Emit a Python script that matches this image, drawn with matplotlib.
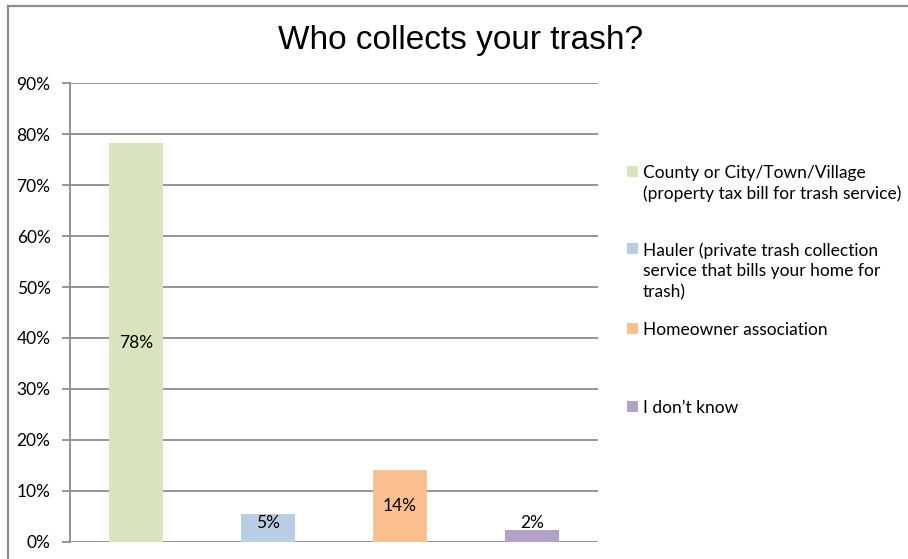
import matplotlib
matplotlib.use("Agg")
import matplotlib.pyplot as plt
from matplotlib.lines import Line2D
from matplotlib.patches import Rectangle

categories = [
    "County or City/Town/Village\n(property tax bill for trash service)",
    "Hauler (private trash collection\nservice that bills your home for\ntrash)",
    "Homeowner association",
    "I don\u2019t know",
]
values = [78.2, 5.4, 14.1, 2.3]
colors = ["#d7e4bd", "#b9cde5", "#fac090", "#b3a2c7"]
yticks = [0, 10, 20, 30, 40, 50, 60, 70, 80, 90]
title = "Who collects your trash?"

W, H = 908, 559
fig = plt.figure(figsize=(W / 100, H / 100), dpi=100)
fig.patch.set_facecolor("white")

# outer chart frame (top and left edges visible)
fig.add_artist(Line2D([8 / W, 1.0], [1 - 6 / H, 1 - 6 / H], color="#8c8c8c", lw=1.6))
fig.add_artist(Line2D([8 / W, 8 / W], [0, 1 - 6 / H], color="#8c8c8c", lw=1.6))

ax = fig.add_axes([70 / W, 17.3 / H, (598 - 70) / W, (541.7 - 83.3) / H])
x = list(range(len(values)))
ax.bar(x, values, width=0.41, color=colors, zorder=3)

ax.set_xlim(-0.5, len(values) - 0.5)
ax.set_ylim(0, 90)
ax.set_yticks(yticks)
ax.set_yticklabels([f"{t}%" for t in yticks], fontsize=12.5, family="Lato", color="#000000")
ax.set_xticks([])
ax.yaxis.grid(True, color="#8c8c8c", lw=1.3, zorder=0)
ax.tick_params(axis="y", length=6, width=1.3, color="#8c8c8c", pad=8)
for side in ["top", "right", "bottom"]:
    ax.spines[side].set_visible(False)
ax.spines["left"].set_color("#8c8c8c")
ax.spines["left"].set_linewidth(1.3)

for xi, v in zip(x, values):
    ax.text(xi, max(v / 2, 3.7), f"{v:.0f}%", ha="center", va="center",
            fontsize=12.5, family="Lato", color="#000000", zorder=4)

fig.text(461 / W, 1 - 40 / H, title, ha="center", va="center",
         fontsize=24, family="Liberation Sans", color="#000000")

# legend entries
legend_y = [172, 249, 329, 407]
for label, c, ly in zip(categories, colors, legend_y):
    fig.add_artist(Rectangle((627 / W, 1 - (ly + 5) / H), 11 / W, 11 / H,
                             transform=fig.transFigure, facecolor=c, edgecolor="none"))
    fig.text(643 / W, 1 - (ly - 7) / H, label, ha="left", va="top",
             fontsize=12.5, family="Lato", color="#000000", linespacing=1.36)

fig.savefig("out.png", dpi=100, facecolor="white")
